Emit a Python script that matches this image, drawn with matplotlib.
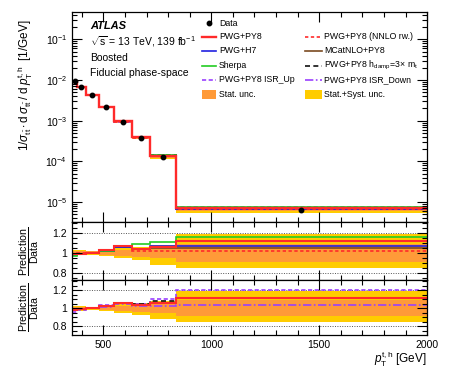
import numpy as np
import matplotlib
matplotlib.use("Agg")
import matplotlib.pyplot as plt
from matplotlib.lines import Line2D
from matplotlib.patches import Rectangle
from matplotlib.ticker import MultipleLocator, LogLocator, NullFormatter, FixedLocator

plt.rcParams['font.family'] = ['Liberation Sans', 'DejaVu Sans']
plt.rcParams['mathtext.fontset'] = 'custom'
plt.rcParams['mathtext.rm'] = 'Liberation Sans'
plt.rcParams['mathtext.it'] = 'Liberation Sans:italic'
plt.rcParams['mathtext.bf'] = 'Liberation Sans:bold'

# ---------------- data ----------------
bin_edges = [355, 378, 418, 480, 549, 634, 718, 835, 2000]
data_xsec = [9.3e-3, 6.9e-3, 4.4e-3, 2.14e-3, 9.1e-4, 3.77e-4, 1.31e-4, 6.5e-6]

stat_unc = [0.02, 0.015, 0.012, 0.02, 0.03, 0.04, 0.05, 0.09]
tot_unc_up = [0.03, 0.025, 0.02, 0.03, 0.05, 0.06, 0.08, 0.19]
tot_unc_dn = [0.035, 0.025, 0.02, 0.03, 0.05, 0.07, 0.12, 0.155]

ratio_pwg_py8 = [0.985, 0.99, 1.0, 1.023, 1.063, 1.04, 1.057, 1.113]
ratio_pwg_h7 = [0.98, 0.99, 1.0, 1.02, 1.06, 1.035, 1.065, 1.067]
ratio_sherpa = [0.97, 0.985, 1.0, 1.02, 1.07, 1.083, 1.11, 1.155]
ratio_nnlo = [0.99, 0.995, 1.0, 1.015, 1.053, 1.013, 1.02, 1.02]
ratio_mcatnlo = [0.985, 0.99, 1.0, 1.02, 1.06, 1.035, 1.045, 1.05]
ratio_hdamp = [0.98, 0.99, 1.0, 1.025, 1.06, 1.045, 1.085, 1.11]
ratio_isr_up = [0.956, 0.98, 1.0, 1.033, 1.063, 1.048, 1.104, 1.2]
ratio_isr_dn = [0.985, 0.995, 1.0, 1.02, 1.05, 1.03, 1.03, 1.037]

labels = {
    'data': 'Data',
    'pwg': 'PWG+PY8',
    'h7': 'PWG+H7',
    'sherpa': 'Sherpa',
    'isrup': 'PWG+PY8 ISR_Up',
    'stat': 'Stat. unc.',
    'nnlo': 'PWG+PY8 (NNLO rw.)',
    'mcatnlo': 'MCatNLO+PY8',
    'hdamp': r'PWG+PY8 h$_{\mathrm{damp}}$=3$\times$ m$_{\mathrm{t}}$',
    'isrdn': 'PWG+PY8 ISR_Down',
    'syst': 'Stat.+Syst. unc.',
}

# ---------------- styles ----------------
C_RED = '#ff2a2a'
C_BLUE = '#2020e0'
C_GREEN = '#22cc22'
C_BROWN = '#7a4a20'
C_PURPLE = '#9a40ff'
C_ORANGE = '#ff9a38'
C_YELLOW = '#ffcc00'

edges = np.array(bin_edges, dtype=float)
data = np.array(data_xsec)
centers = 0.5 * (edges[:-1] + edges[1:])
stat = np.array(stat_unc)
tup = np.array(tot_unc_up)
tdn = np.array(tot_unc_dn)

styles = {
    'pwg': dict(color=C_RED, lw=1.7, ls='-'),
    'h7': dict(color=C_BLUE, lw=1.2, ls='-'),
    'sherpa': dict(color=C_GREEN, lw=1.2, ls='-'),
    'isrup': dict(color=C_PURPLE, lw=1.2, ls=(0, (2.5, 1.5))),
    'nnlo': dict(color=C_RED, lw=1.2, ls=(0, (2, 1.5))),
    'mcatnlo': dict(color=C_BROWN, lw=1.2, ls='-'),
    'hdamp': dict(color='#111111', lw=1.2, ls=(0, (3, 2))),
    'isrdn': dict(color=C_PURPLE, lw=1.2, ls=(0, (5, 1.5, 1, 1.5))),
}
ratios = {
    'pwg': ratio_pwg_py8, 'h7': ratio_pwg_h7, 'sherpa': ratio_sherpa, 'isrup': ratio_isr_up,
    'nnlo': ratio_nnlo, 'mcatnlo': ratio_mcatnlo, 'hdamp': ratio_hdamp, 'isrdn': ratio_isr_dn,
}

fig = plt.figure(figsize=(4.49, 3.71), dpi=100)
L, W = 0.1604, 0.791
ax0 = fig.add_axes([L, 0.4008, W, 0.5669])
ax1 = fig.add_axes([L, 0.2453, W, 0.1555], sharex=ax0)
ax2 = fig.add_axes([L, 0.0970, W, 0.1483], sharex=ax0)

# ---- top panel ----
ax0.stairs(data * (1 + tup), edges, baseline=data * (1 - tdn), fill=True, color=C_YELLOW, lw=0)
ax0.stairs(data * (1 + stat), edges, baseline=data * (1 - stat), fill=True, color=C_ORANGE, lw=0)
for key in ['isrup', 'hdamp', 'isrdn', 'mcatnlo', 'h7', 'sherpa', 'nnlo', 'pwg']:
    ax0.stairs(data * np.array(ratios[key]), edges, baseline=None, **styles[key])
ax0.plot(centers, data, 'o', color='black', ms=3.2, zorder=10)
ax0.set_yscale('log')
ax0.set_ylim(3.2e-6, 0.47)
ax0.set_xlim(355, 2000)

# ---- ratio panels ----
for ax, keys in ((ax1, ['nnlo', 'mcatnlo', 'h7', 'sherpa', 'pwg']),
                 (ax2, ['isrdn', 'isrup', 'hdamp', 'pwg'])):
    ax.stairs(1 + tup, edges, baseline=1 - tdn, fill=True, color=C_YELLOW, lw=0)
    ax.stairs(1 + stat, edges, baseline=1 - stat, fill=True, color=C_ORANGE, lw=0)
    for key in keys:
        st2 = dict(styles[key])
        if key == 'pwg':
            st2['lw'] = 1.5
        ax.stairs(np.array(ratios[key]), edges, baseline=None, **st2)
    for yv in (0.8, 1.2):
        ax.axhline(yv, color='#555555', lw=0.7, ls=(0, (1, 1.5)), zorder=0.5)
    ax.yaxis.set_major_locator(FixedLocator([0.8, 1.0, 1.2]))
    ax.yaxis.set_minor_locator(MultipleLocator(0.05))
    ax.set_yticklabels(['0.8', '1', '1.2'])
    ax.set_ylabel(r'$\frac{\mathrm{Prediction}}{\mathrm{Data}}$', fontsize=11)
    ax.yaxis.set_label_coords(-0.085, 0.5)
ax1.set_ylim(0.727, 1.304)
ax2.set_ylim(0.703, 1.315)

# ---- ticks ----
for ax in (ax0, ax1, ax2):
    ax.xaxis.set_major_locator(MultipleLocator(500))
    ax.xaxis.set_minor_locator(MultipleLocator(100))
    ax.tick_params(which='both', direction='in', top=True, right=True, labelsize=7.5, width=0.8)
    ax.tick_params(which='major', length=7)
    ax.tick_params(which='minor', length=3.5)
    for sp in ax.spines.values():
        sp.set_linewidth(0.9)
ax0.yaxis.set_major_locator(LogLocator(base=10, numticks=10))
ax0.yaxis.set_minor_locator(LogLocator(base=10, subs=np.arange(2, 10), numticks=20))
ax0.yaxis.set_minor_formatter(NullFormatter())
ax0.tick_params(labelbottom=False)
ax1.tick_params(labelbottom=False)
ax2.set_xticks([500, 1000, 1500, 2000])
ax2.set_xticklabels(['500', '1000', '1500', '2000'])

ax0.set_ylabel(r'$1/\sigma_{\mathrm{t\bar{t}}}\cdot\mathrm{d}\,\sigma_{\mathrm{t\bar{t}}}\;/\;\mathrm{d}\,p_{\mathrm{T}}^{\mathrm{t,h}}$  [1/GeV]',
               fontsize=8.5)
ax0.yaxis.set_label_coords(-0.105, 0.65)
fig.text(0.951, 0.005, r'$p_{\mathrm{T}}^{\mathrm{t,h}}$ [GeV]', ha='right', va='bottom', fontsize=8.5)

# ---- annotations ----
ax0.text(0.05, 0.935, 'ATLAS', transform=ax0.transAxes, fontsize=8, fontweight='bold', style='italic', va='center')
ax0.text(0.05, 0.858, r'$\sqrt{\mathrm{s}}$ = 13 TeV, 139 fb$^{-1}$', transform=ax0.transAxes, fontsize=7.5, va='center')
ax0.text(0.05, 0.782, 'Boosted', transform=ax0.transAxes, fontsize=7.5, va='center')
ax0.text(0.05, 0.709, 'Fiducial phase-space', transform=ax0.transAxes, fontsize=7.5, va='center')

# ---- legend (manual layout, two columns) ----
row_y = [0.946, 0.883, 0.816, 0.745, 0.677, 0.609]
col_x = [(0.366, 0.406, 0.414), (0.656, 0.704, 0.710)]
legend_cols = [
    [('marker', 'data'), ('line', 'pwg'), ('line', 'h7'), ('line', 'sherpa'), ('line', 'isrup'), ('patch', 'stat')],
    [None, ('line', 'nnlo'), ('line', 'mcatnlo'), ('line', 'hdamp'), ('line', 'isrdn'), ('patch', 'syst')],
]
patch_colors = {'stat': C_ORANGE, 'syst': C_YELLOW}
LEG_FS = 6.3
for (x0, x1, xt), entries in zip(col_x, legend_cols):
    for y, ent in zip(row_y, entries):
        if ent is None:
            continue
        kind, key = ent
        if kind == 'marker':
            ax0.add_line(Line2D([(x0 + x1) / 2], [y], marker='o', color='black', ms=3.2,
                                ls='none', transform=ax0.transAxes, clip_on=False))
        elif kind == 'line':
            ax0.add_line(Line2D([x0, x1], [y, y], transform=ax0.transAxes, clip_on=False, **styles[key]))
        else:
            ax0.add_patch(Rectangle((x0, y - 0.022), x1 - x0, 0.044, transform=ax0.transAxes,
                                    facecolor=patch_colors[key], edgecolor='none', clip_on=False))
        ax0.text(xt, y, labels[key], transform=ax0.transAxes, fontsize=LEG_FS, va='center', ha='left')

fig.savefig('out.png', dpi=100)
